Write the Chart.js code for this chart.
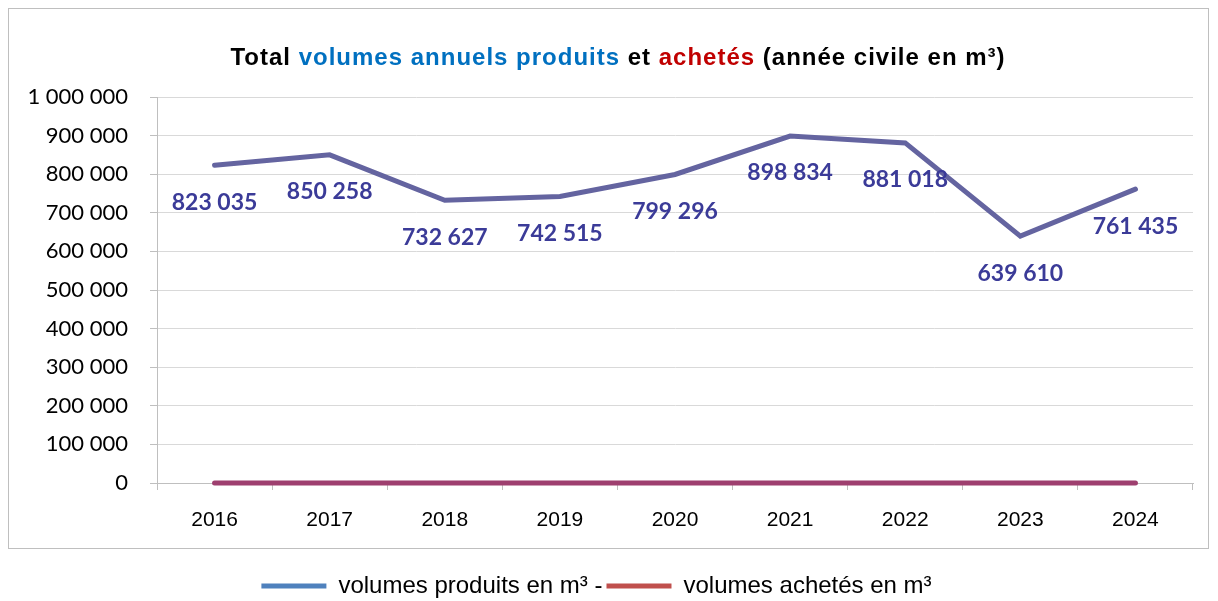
<!DOCTYPE html>
<html lang="fr">
<head>
<meta charset="utf-8">
<script src="https://cdn.jsdelivr.net/npm/chart.js@4"></script>
<style>
  html, body { margin: 0; padding: 0; background: #fff; }
  #wrap { position: relative; width: 1218px; height: 601px; }
</style>
</head>
<body>
<div id="wrap"><canvas id="volumesChart" width="1218" height="601"></canvas></div>
<script>
// Données
const annees = ["2016", "2017", "2018", "2019", "2020", "2021", "2022", "2023", "2024"];
const volumesProduits = [823035, 850258, 732627, 742515, 799296, 898834, 881018, 639610, 761435];
const volumesAchetes = [0, 0, 0, 0, 0, 0, 0, 0, 0];
const legendeProduits = "volumes produits en m³ -";
const legendeAchetes = "volumes achetés en m³";

// Titre multicolore
const titreMorceaux = [
    { texte: "Total ", couleur: "#000000" },
    { texte: "volumes annuels produits", couleur: "#0070C0" },
    { texte: " et ", couleur: "#000000" },
    { texte: "achetés", couleur: "#C00000" },
    { texte: " (année civile en m³)", couleur: "#000000" }
];

const POLICE = "'Liberation Sans Narrow', 'Arial Narrow', 'Liberation Sans', sans-serif";

function formatFr(v) {
    return String(Math.round(v)).replace(/\B(?=(\d{3})+(?!\d))/g, " ");
}

// Cadre + titre
const cadreTitre = {
    id: "cadreTitre",
    beforeDraw(chart) {
        const ctx = chart.ctx;
        ctx.save();
        ctx.strokeStyle = "#BFBFBF";
        ctx.lineWidth = 1;
        ctx.strokeRect(8.5, 8.5, 1200, 540);

        ctx.font = "bold 24px " + POLICE;
        ctx.letterSpacing = "1px";
        ctx.textBaseline = "middle";
        ctx.textAlign = "left";
        const total = titreMorceaux.reduce((s, m) => s + ctx.measureText(m.texte).width, 0);
        let x = 618 - total / 2;
        titreMorceaux.forEach(m => {
            ctx.fillStyle = m.couleur;
            ctx.fillText(m.texte, x, 58);
            x += ctx.measureText(m.texte).width;
        });
        ctx.restore();
    }
};

// Étiquettes de valeurs
const etiquettes = {
    id: "etiquettes",
    afterDatasetsDraw(chart) {
        const ctx = chart.ctx;
        const meta = chart.getDatasetMeta(0);
        ctx.save();
        ctx.font = "bold 23px Lato, sans-serif";
        ctx.fillStyle = "#3B3B98";
        ctx.textAlign = "center";
        ctx.textBaseline = "middle";
        meta.data.forEach((pt, i) => {
            ctx.fillText(formatFr(volumesProduits[i]), pt.x, pt.y + 37);
        });
        ctx.restore();
    }
};

const ctx = document.getElementById("volumesChart").getContext("2d");

new Chart(ctx, {
    type: "line",
    plugins: [cadreTitre, etiquettes],
    data: {
        labels: annees,
        datasets: [
            {
                label: legendeProduits,
                data: volumesProduits,
                borderColor: "#6464A0",
                borderWidth: 5,
                borderCapStyle: "round",
                tension: 0,
                pointRadius: 0,
                fill: false
            },
            {
                label: legendeAchetes,
                data: volumesAchetes,
                borderColor: "#9E3F6F",
                borderWidth: 5,
                borderCapStyle: "round",
                tension: 0,
                pointRadius: 0,
                fill: false,
                clip: false
            }
        ]
    },
    options: {
        responsive: false,
        animation: false,
        layout: { padding: { top: 97, left: 0, right: 25, bottom: -7 } },
        plugins: {
            title: { display: false },
            tooltip: { enabled: false },
            legend: {
                position: "bottom",
                labels: {
                    font: { family: POLICE, size: 24 },
                    color: "#000",
                    boxWidth: 65,
                    boxHeight: 5,
                    padding: 4,
                    generateLabels: () => [
                        { text: legendeProduits, fillStyle: "#4F81BD", strokeStyle: "#4F81BD", lineWidth: 0, datasetIndex: 0 },
                        { text: legendeAchetes, fillStyle: "#C0504D", strokeStyle: "#C0504D", lineWidth: 0, datasetIndex: 1 }
                    ]
                }
            }
        },
        scales: {
            x: {
                offset: true,
                grid: {
                    offset: true,
                    drawOnChartArea: false,
                    drawTicks: true,
                    tickLength: 7,
                    color: "#BFBFBF"
                },
                border: { color: "#BFBFBF" },
                ticks: {
                    font: { family: POLICE, size: 21 },
                    color: "#000",
                    padding: 18
                },
                afterFit: (scale) => { scale.height = 87; }
            },
            y: {
                min: 0,
                max: 1000000,
                ticks: {
                    stepSize: 100000,
                    font: { family: "Lato, sans-serif", size: 22 },
                    color: "#000",
                    padding: 22,
                    callback: v => formatFr(v)
                },
                grid: {
                    color: "#D9D9D9",
                    tickLength: 7,
                    tickColor: "#BFBFBF"
                },
                border: { color: "#BFBFBF" },
                afterFit: (scale) => { scale.width = 157; }
            }
        }
    }
});
</script>
</body>
</html>
